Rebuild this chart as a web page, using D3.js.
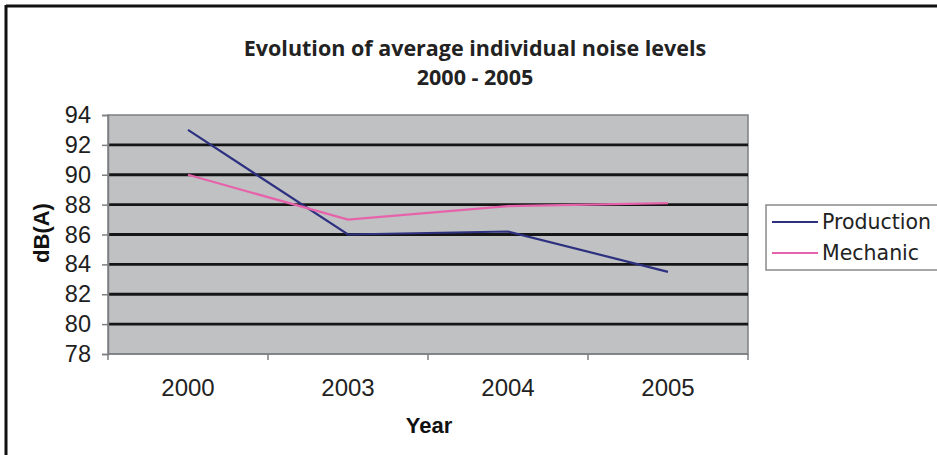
<!DOCTYPE html>
<html>
<head>
<meta charset="utf-8">
<script src="https://cdn.jsdelivr.net/npm/d3@7/dist/d3.min.js"></script>
<style>
  html, body { margin: 0; padding: 0; background: #fff; }
  svg { display: block; }
</style>
</head>
<body>
<svg id="chart" width="937" height="455"></svg>
<script>
const years = ["2000", "2003", "2004", "2005"];
const production = [93.0, 86.0, 86.2, 83.5];
const mechanic = [90.0, 87.0, 87.9, 88.1];
const yTicks = [78, 80, 82, 84, 86, 88, 90, 92, 94];
const seriesNames = ["Production", "Mechanic"];
const seriesColors = ["#2e3180", "#e663ab"];

const svg = d3.select("#chart");
const W = 937, H = 455;

// outer frame (top and left)
svg.append("line").attr("x1", 6).attr("x2", W).attr("y1", 6).attr("y2", 6)
  .attr("stroke", "#111").attr("stroke-width", 3);
svg.append("line").attr("x1", 6).attr("x2", 6).attr("y1", 5).attr("y2", H)
  .attr("stroke", "#111").attr("stroke-width", 3);

const plot = { left: 108, right: 748, top: 115, bottom: 354 };

const x = d3.scaleBand().domain(years).range([plot.left, plot.right]).padding(0);
const y = d3.scaleLinear().domain([78, 94]).range([plot.bottom, plot.top]);

// plot background
svg.append("rect")
  .attr("x", plot.left).attr("y", plot.top)
  .attr("width", plot.right - plot.left).attr("height", plot.bottom - plot.top)
  .attr("fill", "#bfc1c3").attr("stroke", "#7d7f82").attr("stroke-width", 1.5);

// gridlines
svg.append("g").selectAll("line")
  .data(yTicks.filter(d => d > 78 && d < 94))
  .join("line")
  .attr("x1", plot.left).attr("x2", plot.right)
  .attr("y1", d => y(d)).attr("y2", d => y(d))
  .attr("stroke", "#161616").attr("stroke-width", 2.8);

// y axis
const yAxis = d3.axisLeft(y).tickValues(yTicks).tickSize(6).tickPadding(11).tickFormat(d3.format("d"));
const yg = svg.append("g").attr("transform", `translate(${plot.left},0)`).call(yAxis);
yg.select(".domain").attr("stroke", "#7d7f82").attr("stroke-width", 1.5);
yg.selectAll(".tick line").attr("stroke", "#7d7f82").attr("stroke-width", 1.5);
yg.selectAll(".tick text")
  .attr("font-family", "Liberation Sans, Arial, sans-serif")
  .attr("font-size", 23.5).attr("fill", "#1e1e1e");

// x axis with ticks at band boundaries
const xg = svg.append("g").attr("transform", `translate(0,${plot.bottom})`);
xg.append("line").attr("x1", plot.left).attr("x2", plot.right).attr("y1", 0).attr("y2", 0)
  .attr("stroke", "#7d7f82").attr("stroke-width", 1.5);
const bounds = years.map(d => x(d)).concat([x(years[years.length - 1]) + x.bandwidth()]);
xg.selectAll("line.tk").data(bounds).join("line").attr("class", "tk")
  .attr("x1", d => d).attr("x2", d => d).attr("y1", 0).attr("y2", 6)
  .attr("stroke", "#7d7f82").attr("stroke-width", 1.5);
xg.selectAll("text").data(years).join("text")
  .attr("x", d => x(d) + x.bandwidth() / 2).attr("y", 33)
  .attr("dominant-baseline", "central")
  .attr("text-anchor", "middle")
  .attr("font-family", "Liberation Sans, Arial, sans-serif")
  .attr("font-size", 24).attr("fill", "#222")
  .text(d => d);

// lines
const line = d3.line().x((d, i) => x(years[i]) + x.bandwidth() / 2).y(d => y(d));
[production, mechanic].forEach((vals, k) => {
  svg.append("path").datum(vals)
    .attr("d", line).attr("fill", "none")
    .attr("stroke", seriesColors[k]).attr("stroke-width", 2.2);
});

// title
const title = svg.append("text").attr("text-anchor", "middle")
  .attr("font-family", "Open Sans, sans-serif").attr("font-weight", "bold")
  .attr("font-size", 21.5).attr("fill", "#222");
title.append("tspan").attr("x", 475).attr("y", 56).text("Evolution of average individual noise levels");
title.append("tspan").attr("x", 475).attr("y", 85).text("2000 - 2005");

// axis titles
svg.append("text")
  .attr("transform", "translate(41,233) rotate(-90)")
  .attr("text-anchor", "middle").attr("dominant-baseline", "central")
  .attr("font-family", "Liberation Sans, Arial, sans-serif").attr("font-weight", "bold")
  .attr("font-size", 22).attr("fill", "#111")
  .text("dB(A)");
svg.append("text")
  .attr("x", 429).attr("y", 425)
  .attr("text-anchor", "middle").attr("dominant-baseline", "central")
  .attr("font-family", "Liberation Sans, Arial, sans-serif").attr("font-weight", "bold")
  .attr("font-size", 22).attr("fill", "#111")
  .text("Year");

// legend
const lg = svg.append("g");
lg.append("rect").attr("x", 766).attr("y", 205).attr("width", 190).attr("height", 65)
  .attr("fill", "#fff").attr("stroke", "#8a8a8a").attr("stroke-width", 1.5);
seriesNames.forEach((name, i) => {
  const cy = 222 + i * 31;
  lg.append("line").attr("x1", 772).attr("x2", 818).attr("y1", cy).attr("y2", cy)
    .attr("stroke", seriesColors[i]).attr("stroke-width", 2.2);
  lg.append("text").attr("x", 822).attr("y", cy)
    .attr("dominant-baseline", "central")
    .attr("font-family", "DejaVu Sans, sans-serif").attr("font-size", 20.5).attr("fill", "#222")
    .text(name);
});
</script>
</body>
</html>
